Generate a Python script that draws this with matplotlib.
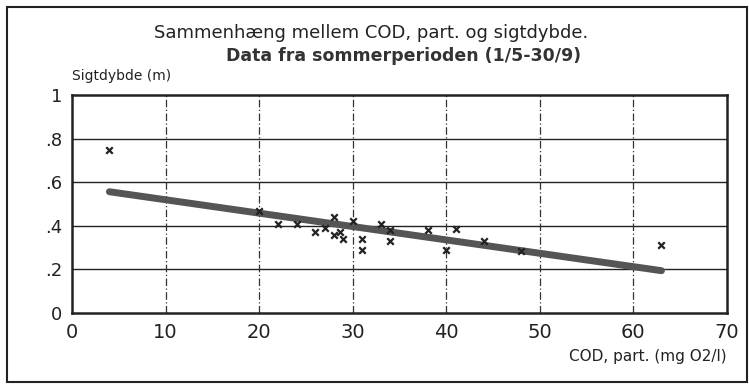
import numpy as np
import matplotlib.pyplot as plt
from matplotlib.patches import Rectangle

# COD, particulate (mg O2/l) vs Secchi depth (m), summer data
cod = [4, 20, 22, 24, 26, 27, 28, 28, 28.6, 29, 30, 31, 31, 33, 34, 34, 38, 40, 41, 44, 48, 63]
sigt = [0.75, 0.47, 0.41, 0.41, 0.37, 0.39, 0.44, 0.36, 0.37, 0.34, 0.42, 0.34, 0.29,
        0.41, 0.38, 0.33, 0.38, 0.29, 0.385, 0.33, 0.285, 0.31]

xticks = [0, 10, 20, 30, 40, 50, 60, 70]
yticks = [0, 0.2, 0.4, 0.6, 0.8, 1.0]
ylabels = ['0', '.2', '.4', '.6', '.8', '1']

# linear fit drawn over the range of the data
k, m = np.polyfit(cod, sigt, 1)
xfit = np.array([min(cod), max(cod)])
yfit = k * xfit + m

fig = plt.figure(figsize=(7.49, 3.87), dpi=100)
ax = fig.add_axes([0.0961, 0.1912, 0.8745, 0.5633])

# frame round the whole figure
fig.patches.append(Rectangle((0.009, 0.012), 0.988, 0.97, transform=fig.transFigure,
                             fill=False, edgecolor='#222222', linewidth=1.5))

for y in yticks[1:-1]:
    ax.axhline(y, color='#222222', linewidth=1.0, zorder=1)
for x in xticks[1:-1]:
    ax.axvline(x, color='#333333', linewidth=0.9, linestyle=(0, (6, 2, 1, 2)), zorder=1)

ax.plot(xfit, yfit, color='#555555', linewidth=5, solid_capstyle='round', zorder=2)
ax.scatter(cod, sigt, marker='x', color='#222222', s=22, linewidths=1.6, zorder=3)

ax.set_xlim(0, 70)
ax.set_ylim(0, 1)
ax.set_xticks(xticks)
ax.set_xticklabels([str(v) for v in xticks], fontsize=14)
ax.set_yticks(yticks)
ax.set_yticklabels(ylabels, fontsize=13)
ax.tick_params(length=0, pad=7, colors='#222222')
for s in ax.spines.values():
    s.set_linewidth(1.8)
    s.set_color('#222222')

fig.text(0.495, 0.915, 'Sammenhæng mellem COD, part. og sigtdybde.', ha='center', va='center',
         fontsize=13, color='#222222')
fig.text(0.539, 0.855, 'Data fra sommerperioden (1/5-30/9)', ha='center', va='center',
         fontsize=12.5, fontweight='bold', color='#333333')
fig.text(0.096, 0.803, 'Sigtdybde (m)', ha='left', va='center', fontsize=10, color='#222222')
fig.text(0.97, 0.078, 'COD, part. (mg O2/l)', ha='right', va='center', fontsize=11, color='#222222')

fig.savefig('out.png', dpi=100)
